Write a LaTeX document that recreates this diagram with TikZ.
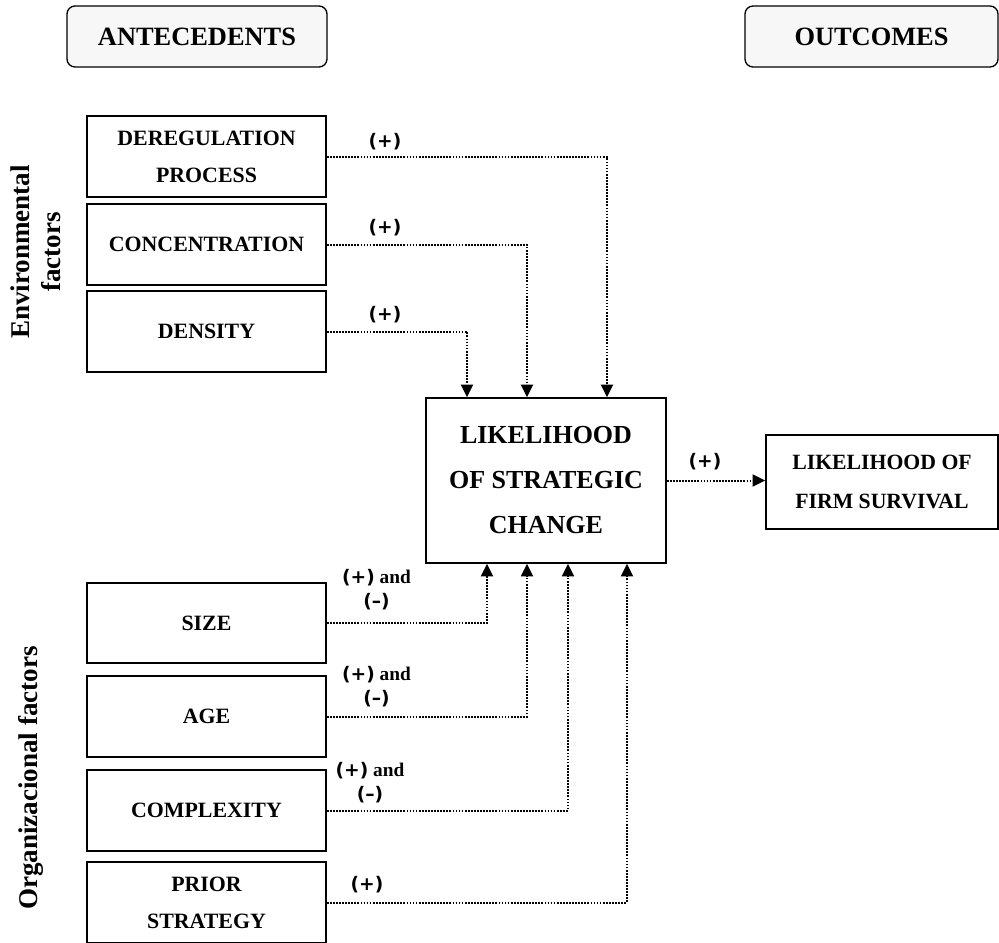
\documentclass[tikz,border=0pt]{standalone}
\usepackage{fontspec}
\setmainfont{Liberation Serif}
\newfontfamily\labfont{DejaVu Sans}
\usetikzlibrary{arrows.meta}
\newlength{\upx}\setlength{\upx}{0.75pt}
\newcommand{\signtxt}[1]{{\labfont\fontsize{14}{18}\selectfont\bfseries #1}}
\begin{document}
\begin{tikzpicture}[x=0.75pt,y=-0.75pt,
  boxstyle/.style={draw,line width=1.2pt,minimum width=239\upx,minimum height=81\upx,inner sep=0pt,align=center,font=\fontsize{16.4}{27.75}\selectfont\bfseries},
  hdr/.style={draw,line width=1pt,rounded corners=6pt,fill=black!3,minimum width=260\upx,minimum height=61\upx,inner sep=0pt,font=\fontsize{19.8}{24}\selectfont\bfseries},
  conn/.style={line width=1.5pt,dash pattern=on 1.3pt off 1.0pt,-{Triangle[width=9pt,length=9.5pt]}},
  sign/.style={inner sep=0pt,align=center,font=\fontsize{14.5}{18}\selectfont\bfseries},
  side/.style={rotate=90,align=center,inner sep=0pt,font=\fontsize{20.3}{23.5}\selectfont\bfseries}]
\useasboundingbox (0,0) rectangle (999,942);

% headers
\node[hdr] (ante) at (197,36.5) {ANTECEDENTS};
\node[hdr,minimum width=253\upx] (outc) at (871.5,36.5) {OUTCOMES};

% side labels
\node[side] (env) at (36,252) {Environmental\\factors};
\node[side] (org) at (30.5,778) {Organizacional factors};

% antecedent boxes
\node[boxstyle] (dereg) at (206.5,156.5) {DEREGULATION\\PROCESS};
\node[boxstyle] (conc) at (206.5,244.5) {CONCENTRATION};
\node[boxstyle] (dens) at (206.5,331.5) {DENSITY};
\node[boxstyle,minimum height=80\upx] (size) at (206.5,623) {SIZE};
\node[boxstyle] (age) at (206.5,716.5) {AGE};
\node[boxstyle] (cplx) at (206.5,810.5) {COMPLEXITY};
\node[boxstyle] (prior) at (206.5,902.5) {PRIOR\\STRATEGY};

% central and outcome boxes
\node[draw,line width=1.2pt,minimum width=240\upx,minimum height=165\upx,inner sep=0pt,align=center,
  font=\fontsize{19.5}{33.75}\selectfont\bfseries] (lsc) at (546,480.5) {LIKELIHOOD\\OF STRATEGIC\\CHANGE};
\node[draw,line width=1.2pt,minimum width=232\upx,minimum height=94\upx,inner sep=0pt,align=center,
  font=\fontsize{16.3}{29.25}\selectfont\bfseries] (lfs) at (882,482) {LIKELIHOOD OF\\FIRM SURVIVAL};

% connectors
\draw[conn] (dereg.east) -| ([xshift=61\upx]lsc.north);
\draw[conn] (conc.east) -| ([xshift=-19\upx]lsc.north);
\draw[conn] (dens.east) -| ([xshift=-79\upx]lsc.north);
\draw[conn] (size.east) -| ([xshift=-59\upx]lsc.south);
\draw[conn] (age.east) -| ([xshift=-19\upx]lsc.south);
\draw[conn] (cplx.east) -| ([xshift=22\upx]lsc.south);
\draw[conn] (prior.east) -| ([xshift=81\upx]lsc.south);
\draw[conn] (lsc.east) -- (lsc.east -| lfs.west);

% signs
\node[sign] (s1) at (385,142) {\signtxt{(+)}};
\node[sign] (s2) at (385,228) {\signtxt{(+)}};
\node[sign] (s3) at (385,315) {\signtxt{(+)}};
\node[sign] (s4) at (705,462) {\signtxt{(+)}};
\node[sign] (s5) at (376.5,590) {\signtxt{(+)} and\\\signtxt{(–)}};
\node[sign] (s6) at (376.5,687) {\signtxt{(+)} and\\\signtxt{(–)}};
\node[sign] (s7) at (370,782.5) {\signtxt{(+)} and\\\signtxt{(–)}};
\node[sign] (s8) at (367,885) {\signtxt{(+)}};
\end{tikzpicture}
\end{document}
